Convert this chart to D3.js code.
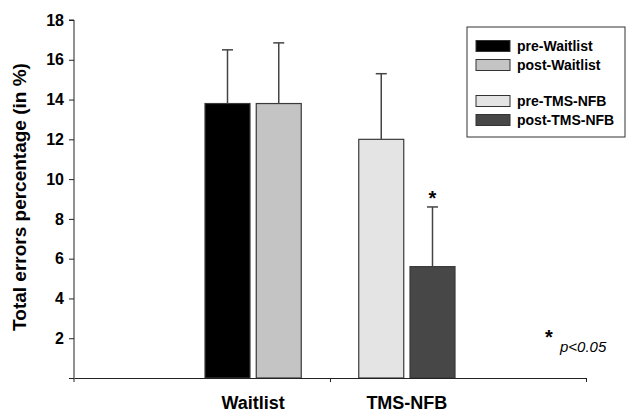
<!DOCTYPE html>
<html>
<head>
<meta charset="utf-8">
<script src="https://cdn.jsdelivr.net/npm/d3@7"></script>
<style>
  body { margin: 0; background: #fff; }
  text { font-family: Arial, "Liberation Sans", sans-serif; }
</style>
</head>
<body>
<script>
// data
var categories = ["Waitlist", "TMS-NFB"]
var series = ["pre-Waitlist", "post-Waitlist", "pre-TMS-NFB", "post-TMS-NFB"]
var seriesGroup = ["Waitlist", "Waitlist", "TMS-NFB", "TMS-NFB"]
var means = [13.8, 13.8, 12.0, 5.6]
var errors = [2.7, 3.05, 3.3, 3.0]
var significant = [false, false, false, true]
var colors = ["#000000", "#c4c4c4", "#e4e4e4", "#474747"]
var yTicks = [0, 2, 4, 6, 8, 10, 12, 14, 16, 18]

var width = 628
var height = 412
var margin = { top: 20, bottom: 34, left: 74, right: 42 }

var svg = d3.select("body")
  .append("svg")
  .attr("width", width)
  .attr("height", height)

var y = d3.scaleLinear()
  .domain([0, 18])
  .range([height - margin.bottom, margin.top])

// category bands for the axis
var xAxisScale = d3.scaleLinear()
  .domain([0, categories.length])
  .range([margin.left, width - margin.right])

// bar slots: the two groups with an empty slot between them
var slots = [series[0], series[1], "gap", series[2], series[3]]
var x = d3.scaleBand()
  .domain(slots)
  .range([198.75, 461.25])
  .paddingInner(0.122)
  .paddingOuter(0.122)

var bars = series.map(function(s, i) {
  return { name: s, group: seriesGroup[i], mean: means[i], err: errors[i], sig: significant[i], color: colors[i] }
})

// bars
svg.append("g")
  .selectAll("rect")
  .data(bars)
  .enter()
  .append("rect")
  .attr("x", d => x(d.name))
  .attr("y", d => y(d.mean))
  .attr("width", x.bandwidth())
  .attr("height", d => y(0) - y(d.mean))
  .attr("fill", d => d.color)
  .attr("stroke", "#3a3a3a")
  .attr("stroke-width", 1.2)

// error bars (upper only)
var eb = svg.append("g")
  .attr("stroke", "#444")
  .attr("stroke-width", 1.5)
eb.selectAll("line.v")
  .data(bars)
  .enter()
  .append("line")
  .attr("class", "v")
  .attr("x1", d => x(d.name) + x.bandwidth() / 2)
  .attr("x2", d => x(d.name) + x.bandwidth() / 2)
  .attr("y1", d => y(d.mean))
  .attr("y2", d => y(d.mean + d.err))
eb.selectAll("line.c")
  .data(bars)
  .enter()
  .append("line")
  .attr("class", "c")
  .attr("x1", d => x(d.name) + x.bandwidth() / 2 - 5.5)
  .attr("x2", d => x(d.name) + x.bandwidth() / 2 + 5.5)
  .attr("y1", d => y(d.mean + d.err))
  .attr("y2", d => y(d.mean + d.err))

// significance star
svg.append("g")
  .selectAll("text")
  .data(bars.filter(d => d.sig))
  .enter()
  .append("text")
  .attr("x", d => x(d.name) + x.bandwidth() / 2)
  .attr("y", d => y(d.mean + d.err) - 2)
  .attr("text-anchor", "middle")
  .attr("font-size", 20)
  .attr("font-weight", "bold")
  .text("*")

// y axis
var ejeY = d3.axisLeft(y)
  .tickValues(yTicks)
  .tickSize(5)
  .tickPadding(5)
  .tickFormat(d => d === 0 ? "" : d)
var gy = svg.append("g")
  .attr("transform", "translate(" + margin.left + ",0)")
  .call(ejeY)
gy.select(".domain").attr("d", "M-5," + y(18) + "H0V" + (y(0) + 4))
gy.selectAll("line").attr("stroke", "#222")
gy.selectAll("path").attr("stroke", "#222")
gy.selectAll("text")
  .attr("font-size", 16)
  .attr("font-weight", "bold")
  .attr("font-family", "Arial, 'Liberation Sans', sans-serif")
  .attr("fill", "#000")

// x axis: ticks on category boundaries
var ejeX = d3.axisBottom(xAxisScale)
  .tickValues(d3.range(1, categories.length + 1))
  .tickSize(4)
  .tickSizeOuter(0)
  .tickFormat("")
var gx = svg.append("g")
  .attr("transform", "translate(0," + y(0) + ")")
  .call(ejeX)
gx.selectAll("line").attr("stroke", "#222")
gx.selectAll("path").attr("stroke", "#222")

// category labels centred under each pair of bars
svg.append("g")
  .selectAll("text")
  .data(categories)
  .enter()
  .append("text")
  .attr("x", function(c) {
    var names = bars.filter(b => b.group === c).map(b => b.name)
    return d3.mean(names, n => x(n) + x.bandwidth() / 2)
  })
  .attr("y", 409)
  .attr("text-anchor", "middle")
  .attr("font-size", 18)
  .attr("font-weight", "bold")
  .text(c => c)

// y axis title
svg.append("text")
  .attr("transform", "translate(26," + 197 + ") rotate(-90)")
  .attr("text-anchor", "middle")
  .attr("font-size", 19)
  .attr("font-weight", "bold")
  .text("Total errors percentage (in %)")

// legend
var legend = svg.append("g").attr("transform", "translate(467,27)")
legend.append("rect")
  .attr("width", 158)
  .attr("height", 110)
  .attr("fill", "#fff")
  .attr("stroke", "#333")
  .attr("stroke-width", 1)
var legendY = [19, 38, 74, 93]
var items = legend.selectAll("g.item")
  .data(bars)
  .enter()
  .append("g")
  .attr("class", "item")
  .attr("transform", (d, i) => "translate(9," + legendY[i] + ")")
items.append("rect")
  .attr("x", 0)
  .attr("y", -5.5)
  .attr("width", 34)
  .attr("height", 11)
  .attr("fill", d => d.color)
  .attr("stroke", "#333")
  .attr("stroke-width", 1)
items.append("text")
  .attr("x", 41)
  .attr("y", 5)
  .attr("font-size", 14)
  .attr("font-weight", "bold")
  .text(d => d.name)

// p-value note
svg.append("text")
  .attr("x", 549)
  .attr("y", 344)
  .attr("text-anchor", "middle")
  .attr("font-size", 20)
  .attr("font-weight", "bold")
  .text("*")
svg.append("text")
  .attr("x", 560)
  .attr("y", 352)
  .attr("font-size", 15)
  .attr("font-style", "italic")
  .text("p<0.05")
</script>
</body>
</html>
